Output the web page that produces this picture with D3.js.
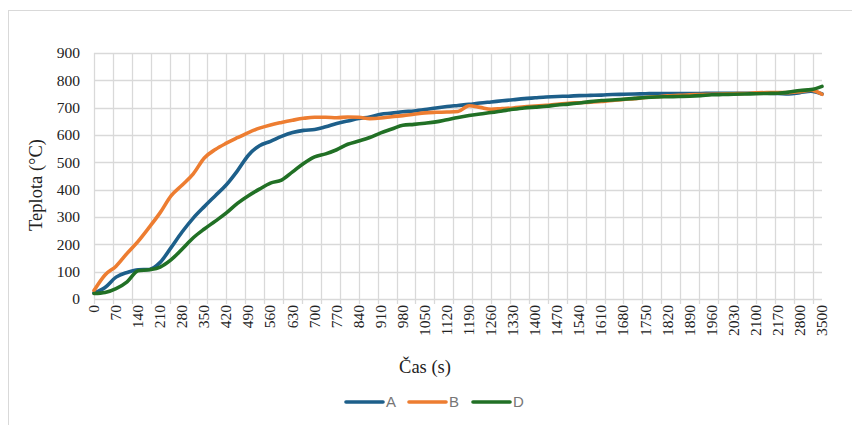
<!DOCTYPE html>
<html>
<head>
<meta charset="utf-8">
<script src="https://cdn.jsdelivr.net/npm/d3@7/dist/d3.min.js"></script>
<style>
  html, body { margin: 0; padding: 0; background: #fff; }
  svg { display: block; }
</style>
</head>
<body>
<svg id="chart" width="852" height="425"></svg>
<script>
// Category axis: one data row every 10 s up to 2170 s, then a few longer steps.
// Rows are numbered 0..231; a label is shown every 7th row, a gridline every 6th.
const ROW_COUNT = 232;
const LABEL_EVERY = 7;
const GRID_EVERY = 6;
const timeLabels = [0, 70, 140, 210, 280, 350, 420, 490, 560, 630, 700, 770, 840, 910, 980,
  1050, 1120, 1190, 1260, 1330, 1400, 1470, 1540, 1610, 1680, 1750, 1820, 1890, 1960,
  2030, 2100, 2170, 2800, 3500];

// Temperatures are sampled every 3.5 rows (half a label step).
const SAMPLE_STEP = 3.5;

const seriesA = [22, 42, 80, 97, 107, 108, 134, 189, 246, 296, 338, 378, 418, 469, 526, 561, 577,
  595, 609, 617, 620, 630, 642, 651, 660, 666, 676, 680, 685, 688, 693, 699, 704, 708, 712, 717,
  721, 725, 729, 733, 736, 739, 741, 742, 744, 745, 746, 748, 749, 750, 751, 752, 752, 752, 752,
  752, 753, 753, 753, 753, 753, 753, 752, 750, 755, 760, 750];

const seriesB = [31, 88, 120, 167, 211, 262, 316, 378, 417, 458, 516, 547, 570, 590, 609, 625, 637,
  646, 654, 661, 665, 665, 663, 666, 665, 660, 662, 667, 671, 676, 681, 683, 684, 686, 707, 701,
  694, 697, 699, 703, 706, 709, 712, 716, 718, 720, 723, 726, 730, 733, 737, 740, 743, 745, 747,
  748, 749, 750, 751, 752, 754, 755, 755, 755, 758, 764, 749];

const seriesD = [20, 24, 38, 63, 103, 107, 117, 144, 183, 224, 256, 285, 315, 350, 378, 402, 424,
  435, 465, 496, 520, 531, 546, 566, 578, 591, 608, 622, 636, 639, 643, 648, 656, 664, 671, 677,
  682, 688, 694, 699, 702, 705, 710, 713, 717, 722, 726, 728, 731, 734, 737, 739, 740, 741, 742,
  744, 747, 748, 749, 750, 751, 752, 753, 757, 763, 766, 778];

const seriesNames = ["A", "B", "D"];
const seriesColors = ["#1d5f8a", "#ed7d31", "#217025"];
const yTicks = [0, 100, 200, 300, 400, 500, 600, 700, 800, 900];

const series = [seriesA, seriesB, seriesD].map((vals, k) => ({
  name: seriesNames[k],
  color: seriesColors[k],
  points: vals.map((v, i) => ({ row: i * SAMPLE_STEP, v }))
}));

const svg = d3.select("#chart");
const plot = { left: 94, right: 822, top: 53, bottom: 299 };

const x = d3.scaleLinear().domain([0, ROW_COUNT - 1]).range([plot.left, plot.right]);
const y = d3.scaleLinear().domain([0, 900]).range([plot.bottom, plot.top]);

const GRID = "#d9d9d9";
const serif = "'Liberation Serif', 'Times New Roman', serif";

// Outer chart frame
svg.append("rect")
  .attr("x", 8.5).attr("y", 10.5)
  .attr("width", 900).attr("height", 500)
  .attr("fill", "none").attr("stroke", GRID).attr("stroke-width", 1);

// Horizontal gridlines
svg.append("g")
  .selectAll("line").data(yTicks).join("line")
  .attr("x1", plot.left).attr("x2", plot.right)
  .attr("y1", d => Math.round(y(d)) + 0.5).attr("y2", d => Math.round(y(d)) + 0.5)
  .attr("stroke", GRID).attr("stroke-width", 1.3);

// Vertical gridlines plus outside tick marks, every GRID_EVERY rows
const gridRows = d3.range(0, ROW_COUNT, GRID_EVERY);
svg.append("g")
  .selectAll("line").data(gridRows).join("line")
  .attr("x1", d => Math.round(x(d)) + 0.5).attr("x2", d => Math.round(x(d)) + 0.5)
  .attr("y1", plot.top).attr("y2", plot.bottom + 5)
  .attr("stroke", GRID).attr("stroke-width", 1.3);

// Y axis labels
svg.append("g")
  .selectAll("text").data(yTicks).join("text")
  .attr("x", 80).attr("y", d => y(d))
  .attr("dy", "0.34em")
  .attr("text-anchor", "end")
  .attr("font-family", serif).attr("font-size", 15.5).attr("fill", "#222")
  .text(d => d);

// X axis labels, rotated
svg.append("g")
  .selectAll("text").data(timeLabels).join("text")
  .attr("transform", (d, i) => `translate(${x(i * LABEL_EVERY) + 5},305) rotate(-90)`)
  .attr("text-anchor", "end")
  .attr("font-family", serif).attr("font-size", 15.5).attr("fill", "#222")
  .text(d => d);

// Axis titles
svg.append("text")
  .attr("transform", "translate(42,185) rotate(-90)")
  .attr("text-anchor", "middle")
  .attr("font-family", serif).attr("font-size", 18.5).attr("fill", "#222")
  .text("Teplota (°C)");

svg.append("text")
  .attr("x", 425).attr("y", 373)
  .attr("text-anchor", "middle")
  .attr("font-family", serif).attr("font-size", 18.5).attr("fill", "#222")
  .text("Čas (s)");

// Series lines
const line = d3.line()
  .x(d => x(d.row))
  .y(d => y(d.v))
  .curve(d3.curveMonotoneX);

svg.append("g")
  .selectAll("path").data(series).join("path")
  .attr("d", d => line(d.points))
  .attr("fill", "none")
  .attr("stroke", d => d.color)
  .attr("stroke-width", 3.6)
  .attr("stroke-linejoin", "round")
  .attr("stroke-linecap", "round");

// Legend
const legendX = [346, 409, 473];
const legend = svg.append("g")
  .selectAll("g").data(series).join("g")
  .attr("transform", (d, i) => `translate(${legendX[i]},402)`);
legend.append("line")
  .attr("x1", 0).attr("x2", 37).attr("y1", 0).attr("y2", 0)
  .attr("stroke", d => d.color).attr("stroke-width", 3.6)
  .attr("stroke-linecap", "round");
legend.append("text")
  .attr("x", 40).attr("y", 0).attr("dy", "0.36em")
  .attr("font-family", "'Liberation Sans', Arial, sans-serif")
  .attr("font-size", 15).attr("fill", "#767676")
  .text(d => d.name);
</script>
</body>
</html>
